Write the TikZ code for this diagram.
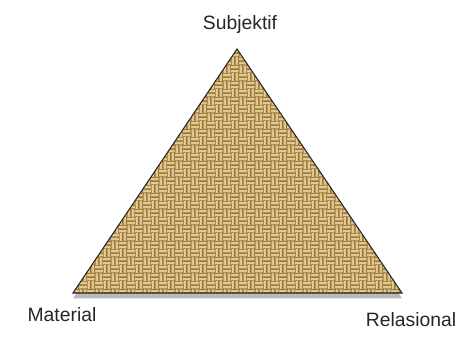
\documentclass[tikz,border=0pt]{standalone}
\usepackage{fontspec}
\setmainfont{Liberation Sans}
\usepackage{tikz}
\usetikzlibrary{patterns,positioning}
\definecolor{burlapBase}{RGB}{150,116,62}
\definecolor{burlapLight}{RGB}{226,200,140}
\pgfdeclarepatternformonly{burlap}{\pgfpointorigin}{\pgfqpoint{9pt}{9pt}}{\pgfqpoint{9pt}{9pt}}{%
  \pgfsetlinewidth{1.4pt}
  % horizontal strands
  \pgfpathmoveto{\pgfqpoint{0pt}{1.1pt}}\pgfpathlineto{\pgfqpoint{4.5pt}{1.1pt}}
  \pgfpathmoveto{\pgfqpoint{0pt}{3.4pt}}\pgfpathlineto{\pgfqpoint{4.5pt}{3.4pt}}
  \pgfpathmoveto{\pgfqpoint{4.5pt}{5.6pt}}\pgfpathlineto{\pgfqpoint{9pt}{5.6pt}}
  \pgfpathmoveto{\pgfqpoint{4.5pt}{7.9pt}}\pgfpathlineto{\pgfqpoint{9pt}{7.9pt}}
  % vertical strands
  \pgfpathmoveto{\pgfqpoint{5.6pt}{0pt}}\pgfpathlineto{\pgfqpoint{5.6pt}{4.5pt}}
  \pgfpathmoveto{\pgfqpoint{7.9pt}{0pt}}\pgfpathlineto{\pgfqpoint{7.9pt}{4.5pt}}
  \pgfpathmoveto{\pgfqpoint{1.1pt}{4.5pt}}\pgfpathlineto{\pgfqpoint{1.1pt}{9pt}}
  \pgfpathmoveto{\pgfqpoint{3.4pt}{4.5pt}}\pgfpathlineto{\pgfqpoint{3.4pt}{9pt}}
  \pgfusepath{stroke}
}
\tikzset{
  corner/.style={font=\fontsize{11}{13}\selectfont, text=black!85},
  cloth/.style={fill=burlapBase},
  weave/.style={pattern=burlap, pattern color=burlapLight},
  edge/.style={line width=0.6pt, black!85, line join=miter},
}

\begin{document}
\begin{tikzpicture}[x=0.02cm, y=-0.02cm]
    \useasboundingbox (0,0) rectangle (475,336);
    % corners of the triangle
    \coordinate (top) at (237,49);
    \coordinate (bl) at (73,293);
    \coordinate (br) at (402,293);
    % shadow under the base
    \fill[gray!55] ([yshift=-3]bl) -- ([yshift=-3]br) -- ([yshift=-3]top) -- cycle;
    % the cloth triangle
    \fill[cloth] (bl) -- (br) -- (top) -- cycle;
    \fill[weave] (bl) -- (br) -- (top) -- cycle;
    \draw[edge] (bl) -- (br) -- (top) -- cycle;
    % labels
    \node[corner] (subj) at (240,24) {Subjektif};
    \node[corner] (mat) at (62,315) {Material};
    \node[corner] (rel) at (411,320) {Relasional};
\end{tikzpicture}
\end{document}
